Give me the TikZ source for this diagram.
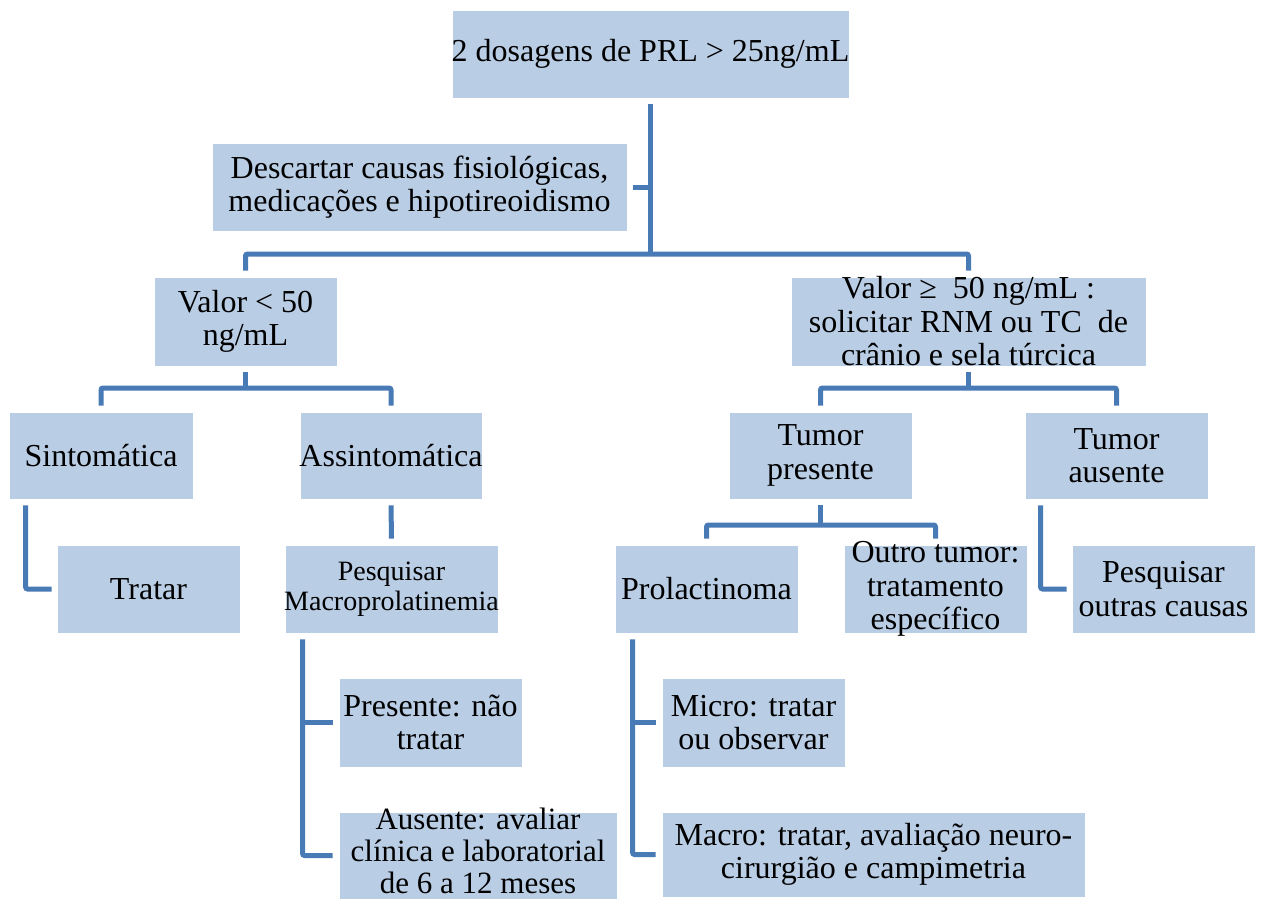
\documentclass[tikz,border=0pt]{standalone}
\usepackage{fontspec}
\setmainfont{Liberation Serif}
\usetikzlibrary{calc}
\definecolor{boxfill}{RGB}{185,205,229}
\definecolor{linec}{RGB}{72,122,182}
\tikzset{
 box/.style={fill=boxfill, draw=white, line width=0.8pt, inner sep=0pt, rectangle},
 txt/.style={inner sep=0pt, align=center, font=\fontsize{32}{33.5}\selectfont},
 ctxt/.style={inner sep=0pt, align=center, font=\fontsize{31}{32}\selectfont},
 stxt/.style={inner sep=0pt, align=center, font=\fontsize{28}{30}\selectfont},
 conn/.style={draw=linec, line width=5pt, rounded corners=2pt, shorten <=6pt, shorten >=6pt},
}
\newcommand\flowbox[7]{%
 \node[box, minimum width=#4pt, minimum height=#5pt] (#1) at (#2,#3) {};
 \node[#6] at (#1.center) {#7};}
\begin{document}
\begin{tikzpicture}[x=1pt,y=-1pt]
\useasboundingbox (0,0) rectangle (1263,899);
\flowbox{top}{650.5}{54}{397}{88}{txt}{2 dosagens de PRL > 25ng/mL}
\flowbox{desc}{419.5}{187}{415}{88}{txt}{Descartar causas fisiológicas,\\ medicações e hipotireoidismo}
\flowbox{vlow}{245.5}{321.5}{183}{89}{txt}{Valor < 50\\ ng/mL}
\flowbox{vhigh}{968.5}{321.5}{355}{89}{txt}{Valor ≥~ 50 ng/mL :\\ solicitar RNM ou TC~ de\\ crânio e sela túrcica}
\flowbox{sint}{101}{455.5}{184}{87}{txt}{Sintomática}
\flowbox{assint}{391}{455.5}{182}{87}{txt}{Assintomática}
\flowbox{tpres}{820.5}{455.5}{183}{87}{txt}{Tumor\\ presente}
\flowbox{taus}{1116.5}{455.5}{183}{87}{txt}{Tumor\\ ausente}
\flowbox{tratar}{148.5}{589}{183}{88}{txt}{Tratar}
\flowbox{pesq}{391.5}{589}{213}{88}{stxt}{Pesquisar\\ Macroprolatinemia}
\flowbox{prol}{706.5}{589}{183}{88}{txt}{Prolactinoma}
\flowbox{outro}{935.5}{589}{183}{88}{txt}{Outro tumor:\\ tratamento\\ específico}
\flowbox{pout}{1163.5}{589}{183}{88}{txt}{Pesquisar\\ outras causas}
\flowbox{pres}{430.5}{722.5}{183}{89}{txt}{Presente: não\\ tratar}
\node[box, minimum width=278pt, minimum height=87pt] (aus) at (478,855.5) {};
\node[ctxt] at ([yshift=5pt]aus.center) {Ausente: avaliar\\ clínica e laboratorial\\ de 6 a 12 meses};
\flowbox{micro}{753.5}{722.5}{183}{89}{txt}{Micro: tratar\\ ou observar}
\flowbox{macro}{873.5}{854.5}{423}{85}{txt}{Macro: tratar, avaliação neuro-\\ cirurgião e campimetria}
% connectors
\coordinate (j1) at (650.5,254);
\draw[conn, shorten >=0pt] (top.south) -- (j1);
\draw[conn, shorten >=0pt] (desc.east) -- (desc.east -| top.south);
\draw[conn] (vlow.north) |- (j1) -| (vhigh.north);
\coordinate (j2) at (245.5,388);
\draw[conn, shorten >=0pt] (vlow.south) -- (j2);
\draw[conn] (sint.north) |- (j2) -| (assint.north);
\coordinate (j3) at (968.5,388);
\draw[conn, shorten >=0pt] (vhigh.south) -- (j3);
\draw[conn] (tpres.north) |- (j3) -| (taus.north);
\coordinate (j4) at (820.5,525);
\draw[conn, shorten >=0pt] (tpres.south) -- (j4);
\draw[conn] (prol.north) |- (j4) -| (outro.north);
\draw[conn, shorten >=5pt] ([xshift=17pt]sint.south west) |- (tratar.west);
\draw[conn] (assint.south) -- (pesq.north);
\draw[conn, shorten >=5pt] ([xshift=16pt]taus.south west) |- (pout.west);
\coordinate (pv) at ([xshift=18pt]pesq.south west);
\draw[conn] (pv) |- (aus.west);
\draw[conn, shorten <=0pt] (pv |- pres.west) -- (pres.west);
\coordinate (qv) at ([xshift=18pt]prol.south west);
\draw[conn] (qv) |- (macro.west);
\draw[conn, shorten <=0pt] (qv |- micro.west) -- (micro.west);
\end{tikzpicture}
\end{document}
